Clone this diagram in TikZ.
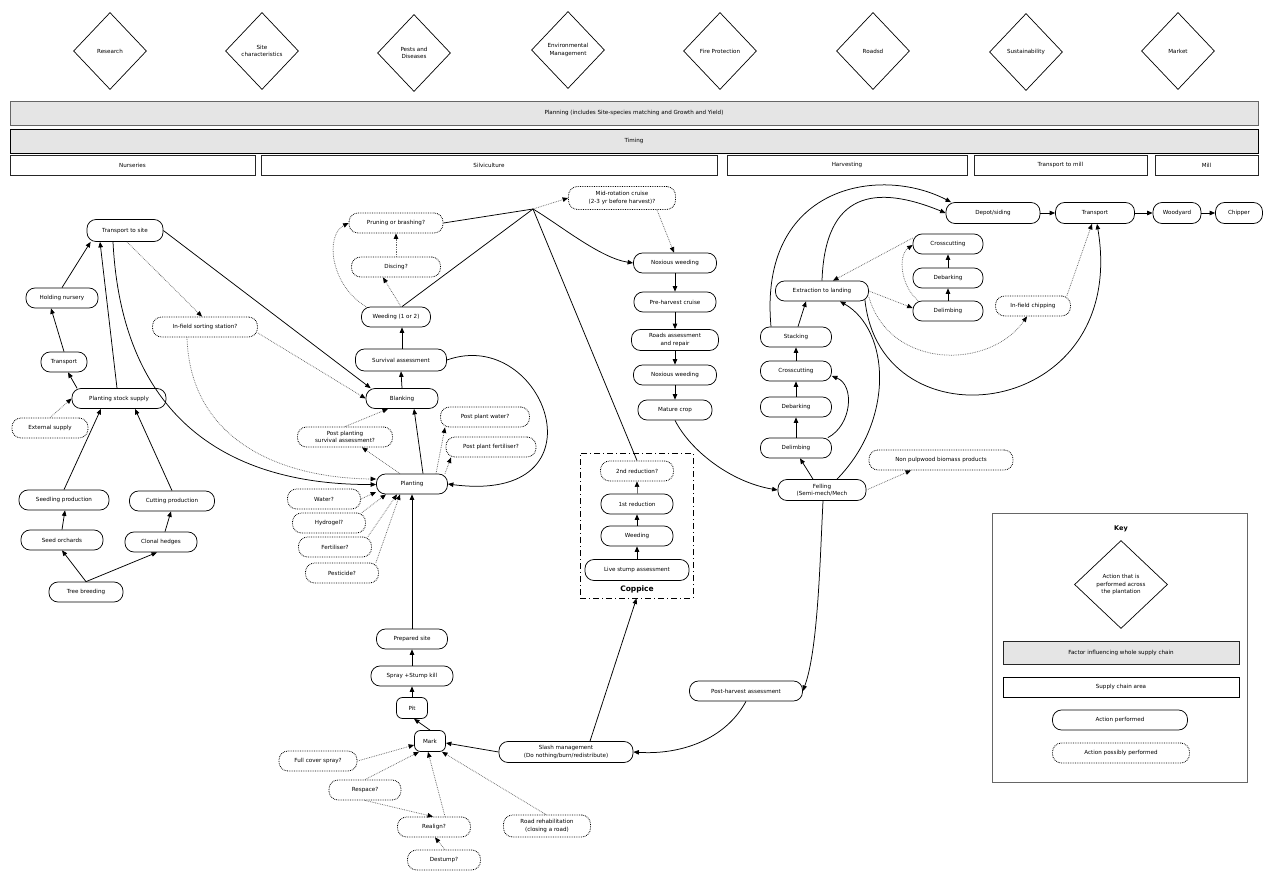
\documentclass[tikz,border=0pt]{standalone}
\usepackage{fontspec}
\setmainfont{DejaVu Sans}
\usetikzlibrary{shapes.geometric,arrows.meta,calc}
\begin{document}
\begin{tikzpicture}[x=1pt,y=-1pt,
  every node/.style={font=\fontsize{5.6}{7.2}\selectfont, align=center, inner sep=1pt},
  act/.style={draw, line width=0.75pt, rounded corners=9pt, minimum height=20pt},
  maybe/.style={act, densely dotted, line width=0.85pt},
  dmd/.style={draw, diamond, line width=0.7pt, inner sep=0pt},
  bar/.style={draw=black!85, rectangle, line width=0.75pt, minimum height=20pt, inner sep=0pt},
  gbar/.style={bar, fill=black!10, minimum height=24pt},
  arr/.style={-{Triangle[length=5.5pt,width=4.5pt]}, line width=0.75pt},
  darr/.style={-{Triangle[length=5.5pt,width=4.5pt,color=black]}, densely dotted, line width=0.75pt, draw=black!60},
  sln/.style={line width=0.75pt}]
\path[use as bounding box] (0,0) rectangle (1266,870);

% ---- top diamonds
\node[dmd, minimum width=73pt, minimum height=77pt] (research) at (110,51) {Research};
\node[dmd, minimum width=73pt, minimum height=77pt] (sitec) at (262,51) {Site\\characteristics};
\node[dmd, minimum width=73pt, minimum height=77pt] (pests) at (414,53) {Pests and\\Diseases};
\node[dmd, minimum width=73pt, minimum height=77pt] (envm) at (568,50) {Environmental\\Management};
\node[dmd, minimum width=73pt, minimum height=77pt] (fire) at (720,51) {Fire Protection};
\node[dmd, minimum width=73pt, minimum height=77pt] (roadsd) at (873,51) {Roadsd};
\node[dmd, minimum width=73pt, minimum height=77pt] (sust) at (1026,52) {Sustainability};
\node[dmd, minimum width=73pt, minimum height=77pt] (market) at (1178,51) {Market};

% ---- bars
\node[gbar, draw=black!60, minimum width=1248pt] (planning) at (634,113) {Planning (includes Site-species matching and Growth and Yield)};
\node[gbar, draw=black, minimum width=1248pt] (timing) at (634,141) {Timing};
\node[bar, minimum width=245pt] (nurs) at (132.5,165) {Nurseries};
\node[bar, minimum width=456pt] (silv) at (489,165) {Silviculture};
\node[bar, minimum width=240pt] (harv) at (847,165) {Harvesting};
\node[bar, minimum width=173pt] (tmill) at (1060.5,165) {Transport to mill};
\node[bar, minimum width=103pt] (mill) at (1206.5,165) {Mill};

% ---- nurseries
\node[act, minimum width=76pt, minimum height=22pt] (tts) at (125,230.5) {Transport to site};
\node[act, minimum width=72pt] (hold) at (62,298) {Holding nursery};
\node[act, minimum width=46pt] (trans1) at (64,362) {Transport};
\node[act, minimum width=94pt] (pss) at (119,398.5) {Planting stock supply};
\node[maybe, minimum width=76pt] (ext) at (50,428) {External supply};
\node[act, minimum width=90pt] (seedp) at (64,500) {Seedling production};
\node[act, minimum width=85pt] (cutp) at (172,501) {Cutting production};
\node[act, minimum width=82pt] (seedo) at (62,540) {Seed orchards};
\node[act, minimum width=72pt] (clonal) at (161,542) {Clonal hedges};
\node[act, minimum width=74pt] (tb) at (86,592) {Tree breeding};
\node[maybe, minimum width=105pt] (ifs) at (205,327) {In-field sorting station?};

% ---- silviculture
\node[maybe, minimum width=94pt] (prune) at (396,223) {Pruning or brashing?};
\node[maybe, minimum width=89pt] (disc) at (396,267) {Discing?};
\node[act, minimum width=69pt] (weed) at (396,317) {Weeding (1 or 2)};
\node[act, minimum width=91pt, minimum height=22pt] (surv) at (401,360) {Survival assessment};
\node[act, minimum width=72pt] (blank) at (402,398.5) {Blanking};
\node[maybe, minimum width=89pt] (ppw) at (485,417) {Post plant water?};
\node[maybe, minimum width=95pt] (ppsa) at (345,437) {Post planting\\survival assessment?};
\node[maybe, minimum width=90pt] (ppf) at (491,447) {Post plant fertiliser?};
\node[act, minimum width=71pt] (plant) at (412,484) {Planting};
\node[maybe, minimum width=73pt] (water) at (324,499) {Water?};
\node[maybe, minimum width=73pt] (hydro) at (329,523) {Hydrogel?};
\node[maybe, minimum width=73pt] (fert) at (335,547) {Fertiliser?};
\node[maybe, minimum width=73pt] (pest) at (342,573) {Pesticide?};

\node[act, minimum width=71pt] (prep) at (412,639) {Prepared site};
\node[act, minimum width=82pt] (spray) at (412,676) {Spray +Stump kill};
\node[act, rounded corners=6pt, minimum width=31pt, minimum height=21pt] (pit) at (412,708) {Pit};
\node[act, rounded corners=6pt, minimum width=31pt, minimum height=21pt] (mark) at (430,741) {Mark};
\node[maybe, minimum width=78pt] (fcs) at (318,761) {Full cover spray?};
\node[maybe, minimum width=72pt] (resp) at (365,790) {Respace?};
\node[maybe, minimum width=73pt] (realign) at (434,827) {Realign?};
\node[maybe, minimum width=73pt] (destump) at (444,860) {Destump?};
\node[maybe, minimum width=87pt, minimum height=22pt] (roadrehab) at (547,826) {Road rehabilitation\\(closing a road)};
\node[act, minimum width=134pt, minimum height=21pt] (slash) at (566,752) {Slash management\\(Do nothing/burn/redistribute)};

% ---- coppice
\node[draw, line width=0.8pt, dash pattern=on 6pt off 3pt on 1pt off 3pt, minimum width=113pt, minimum height=145pt, inner sep=0pt] (cop) at (636.5,525.5) {};
\node[maybe, minimum width=73pt] (red2) at (637,471) {2nd reduction?};
\node[act, minimum width=72pt] (red1) at (637,504) {1st reduction};
\node[act, minimum width=72pt] (cweed) at (637,536) {Weeding};
\node[act, minimum width=104pt, minimum height=21pt] (lsa) at (637,570) {Live stump assessment};
\node[font=\bfseries\fontsize{7.5}{9}\selectfont] (coplab) at (637,589) {Coppice};

% ---- mid silviculture
\coordinate (j) at (533,209);
\node[maybe, minimum width=107pt, minimum height=23pt] (mrc) at (622,198) {Mid-rotation cruise\\(2-3 yr before harvest)?};
\node[act, minimum width=83pt] (nox1) at (675,263) {Noxious weeding};
\node[act, minimum width=82pt] (phc) at (675,302) {Pre-harvest cruise};
\node[act, minimum width=87pt, minimum height=21pt] (roadsa) at (675,340) {Roads assessment\\and repair};
\node[act, minimum width=83pt] (nox2) at (675,375) {Noxious weeding};
\node[act, minimum width=74pt] (mature) at (675,410) {Mature crop};
\node[act, minimum width=113pt] (pha) at (746,691) {Post-harvest assessment};

% ---- harvesting / transport / mill
\node[act, minimum width=94pt, minimum height=21pt] (depot) at (993,213) {Depot/siding};
\node[act, minimum width=79pt, minimum height=21pt] (trans2) at (1095,213) {Transport};
\node[act, minimum width=48pt, minimum height=21pt] (wood) at (1177,213) {Woodyard};
\node[act, minimum width=47pt, minimum height=21pt] (chip) at (1239,213) {Chipper};
\node[act, minimum width=70pt] (cc2) at (948,244) {Crosscutting};
\node[act, minimum width=70pt] (db2) at (948,278) {Debarking};
\node[act, minimum width=70pt] (dl2) at (948,311) {Delimbing};
\node[act, minimum width=93pt] (etl) at (822,291) {Extraction to landing};
\node[maybe, minimum width=75pt] (ifc) at (1033,306) {In-field chipping};
\node[act, minimum width=71pt] (stack) at (796,337) {Stacking};
\node[act, minimum width=71pt] (cc1) at (796,371) {Crosscutting};
\node[act, minimum width=71pt] (db1) at (796,407) {Debarking};
\node[act, minimum width=71pt] (dl1) at (796,448) {Delimbing};
\node[maybe, minimum width=144pt] (npb) at (941,460) {Non pulpwood biomass products};
\node[act, minimum width=88pt, minimum height=21pt] (fell) at (822,490) {Felling\\(Semi-mech/Mech};

% ---- key
\node[draw=black!60, line width=0.75pt, minimum width=255pt, minimum height=269pt, inner sep=0pt] (keybox) at (1119.5,647.5) {};
\node[font=\bfseries\fontsize{6.5}{8}\selectfont] (keylab) at (1121,529) {Key};
\node[dmd, minimum width=93pt, minimum height=88pt] (keyd) at (1121,584.5) {Action that is\\performed across\\the plantation};
\node[gbar, minimum width=236pt, minimum height=23pt] (keyf) at (1121,652.5) {Factor influencing whole supply chain};
\node[bar, draw=black, minimum width=236pt] (keys) at (1121,687) {Supply chain area};
\node[act, minimum width=135pt] (keya) at (1120,720) {Action performed};
\node[maybe, minimum width=137pt] (keyp) at (1121,753) {Action possibly performed};

% ================= connectors
% nurseries
\draw[arr] (hold.north) -- ([xshift=4pt]tts.south west);
\draw[arr] (trans1.north) -- ([xshift=-11pt]hold.south);
\draw[arr] ([xshift=-42pt]pss.north) -- ([xshift=4pt]trans1.south);
\draw[darr] (ext.north) -- (pss.west);
\draw[arr] (seedp.north) -- ([xshift=-18pt]pss.south);
\draw[arr] (cutp.north) -- ([xshift=16pt]pss.south);
\draw[arr] (seedo.north) -- ([xshift=1pt]seedp.south);
\draw[arr] ([xshift=4pt]clonal.north) -- ([xshift=-1pt]cutp.south);
\draw[arr] (tb.north) -- (seedo.south);
\draw[arr] (tb.north) -- ([xshift=-4pt]clonal.south);
\draw[arr] ([xshift=-2pt]pss.north) -- ([xshift=-25pt]tts.south);
\draw[arr] ([xshift=-12pt]tts.south) .. controls (122,420) and (230,485) .. ([yshift=-0.5pt]plant.west);
\draw[darr] ([xshift=2pt]tts.south) -- ([xshift=-3pt]ifs.north);
\draw[arr] (tts.east) -- ([xshift=5pt]blank.north west);
\draw[darr] ([yshift=-6pt]ifs.east) -- (blank.west);
\draw[darr] ([xshift=-18pt]ifs.south) .. controls (190,440) and (280,478) .. ([yshift=5pt]plant.west);

% silviculture
\draw[darr] (ppsa.north) -- ([xshift=-14pt]blank.south);
\draw[darr] ([xshift=-12pt]plant.north) -- ([xshift=17pt]ppsa.south);
\draw[arr] ([xshift=11pt]plant.north) -- ([xshift=12pt]blank.south);
\draw[darr] ([xshift=24pt]plant.north) -- ([xshift=-40pt]ppw.south);
\draw[darr] ([xshift=33pt]plant.north) -- ([xshift=-40pt]ppf.south);
\draw[arr] (surv.east) .. controls (545,325) and (610,505) .. (plant.east);
\draw[arr] (blank.north) -- (surv.south);
\draw[arr] ([xshift=1pt]surv.north) -- ([xshift=6pt]weed.south);
\draw[darr] ([xshift=5pt]weed.north) -- ([xshift=-13pt]disc.south);
\draw[darr] (disc.north) -- (prune.south);
\draw[darr] ([xshift=-30pt]weed.north) .. controls (330,285) and (325,235) .. (prune.west);
\draw[sln] (prune.east) -- (j);
\draw[sln] ([xshift=6pt]weed.north) -- (j);
\draw[darr] (j) -- (mrc.west);
\draw[arr] (j) .. controls (560,225) and (600,258) .. (nox1.west);
\draw[sln] (j) -- (red2.north);
\draw[darr] ([xshift=35pt]mrc.south) -- ([xshift=-1pt]nox1.north);
\draw[arr] (nox1.south) -- (phc.north);
\draw[arr] (phc.south) -- (roadsa.north);
\draw[arr] (roadsa.south) -- (nox2.north);
\draw[arr] (nox2.south) -- (mature.north);
\draw[arr] (mature.south) .. controls (690,450) and (730,482) .. (fell.west);

% planting inputs
\draw[darr] (water.east) -- ([yshift=-8pt]plant.west);
\draw[darr] ([xshift=-4pt]hydro.north east) -- ([xshift=-26pt]plant.south);
\draw[darr] ([xshift=-4pt]fert.north east) -- ([xshift=-15pt]plant.south);
\draw[darr] ([xshift=-3pt]pest.north east) -- ([xshift=-12pt]plant.south);

% site preparation
\draw[arr] (prep.north) -- (plant.south);
\draw[arr] (spray.north) -- (prep.south);
\draw[arr] (pit.north) -- (spray.south);
\draw[arr] (mark.north) -- ([xshift=2pt]pit.south);
\draw[arr] (slash.west) -- ([yshift=-2pt]mark.east);
\draw[darr] (fcs.east) -- ([yshift=-4pt]mark.west);
\draw[darr] (resp.north) -- ([xshift=-11pt]mark.south);
\draw[darr] ([xshift=11pt]realign.north) -- ([xshift=-2pt]mark.south);
\draw[darr] ([xshift=-1pt]roadrehab.north) -- ([xshift=12pt]mark.south);
\draw[darr] (resp.south) -- ([xshift=-1pt]realign.north);
\draw[darr] ([xshift=1pt]destump.north) -- ([xshift=1pt]realign.south);
\draw[arr] ([xshift=24pt]slash.north) -- (cop.south);

% coppice
\draw[arr] (lsa.north) -- (cweed.south);
\draw[arr] (cweed.north) -- (red1.south);
\draw[-{Triangle[length=5.5pt,width=4.5pt,color=black]}, line width=0.6pt, draw=black!55] (red1.north) -- (red2.south);

% harvesting
\draw[arr] ([xshift=-9pt]fell.north) -- ([xshift=4pt]dl1.south);
\draw[arr] (dl1.north) -- (db1.south);
\draw[arr] (db1.north) -- (cc1.south);
\draw[arr] (cc1.north) -- (stack.south);
\draw[arr] ([xshift=-4pt]dl1.north east) .. controls (852,425) and (855,385) .. ([yshift=-5pt]cc1.east);
\draw[arr] ([xshift=2pt]stack.north) -- ([xshift=-16pt]etl.south);
\draw[arr] ([xshift=15pt]fell.north) .. controls (895,420) and (890,330) .. ([xshift=18pt]etl.south);
\draw[arr] ([xshift=-25pt]stack.north) .. controls (758,185) and (880,165) .. ([xshift=-42pt]depot.north);
\draw[arr] (etl.north) .. controls (825,192) and (875,184) .. (depot.west);
\draw[darr] ([yshift=6pt]cc2.west) -- ([xshift=11pt]etl.north);
\draw[darr] (etl.east) -- ([yshift=3pt]dl2.west);
\draw[darr] ([xshift=-30pt]dl2.north) .. controls (900,285) and (898,255) .. ([yshift=-1pt]cc2.west);
\draw[arr] (dl2.north) -- (db2.south);
\draw[arr] (db2.north) -- (cc2.south);
\draw[darr] ([yshift=-6pt]etl.east) .. controls (890,370) and (990,370) .. ([xshift=-6pt]ifc.south);
\draw[arr] ([xshift=-4pt,yshift=2pt]etl.south east) .. controls (880,450) and (1130,420) .. ([xshift=2pt]trans2.south);
\draw[darr] ([xshift=-4pt]ifc.north east) -- ([xshift=-3pt]trans2.south);
\draw[arr] (depot.east) -- (trans2.west);
\draw[arr] (trans2.east) -- (wood.west);
\draw[arr] (wood.east) -- (chip.west);
\draw[darr] (fell.east) -- ([xshift=-30pt]npb.south);
\draw[arr] ([xshift=1pt]fell.south) .. controls (820,560) and (818,650) .. (pha.east);
\draw[arr] (pha.south) .. controls (725,740) and (680,755) .. (slash.east);
\end{tikzpicture}
\end{document}
